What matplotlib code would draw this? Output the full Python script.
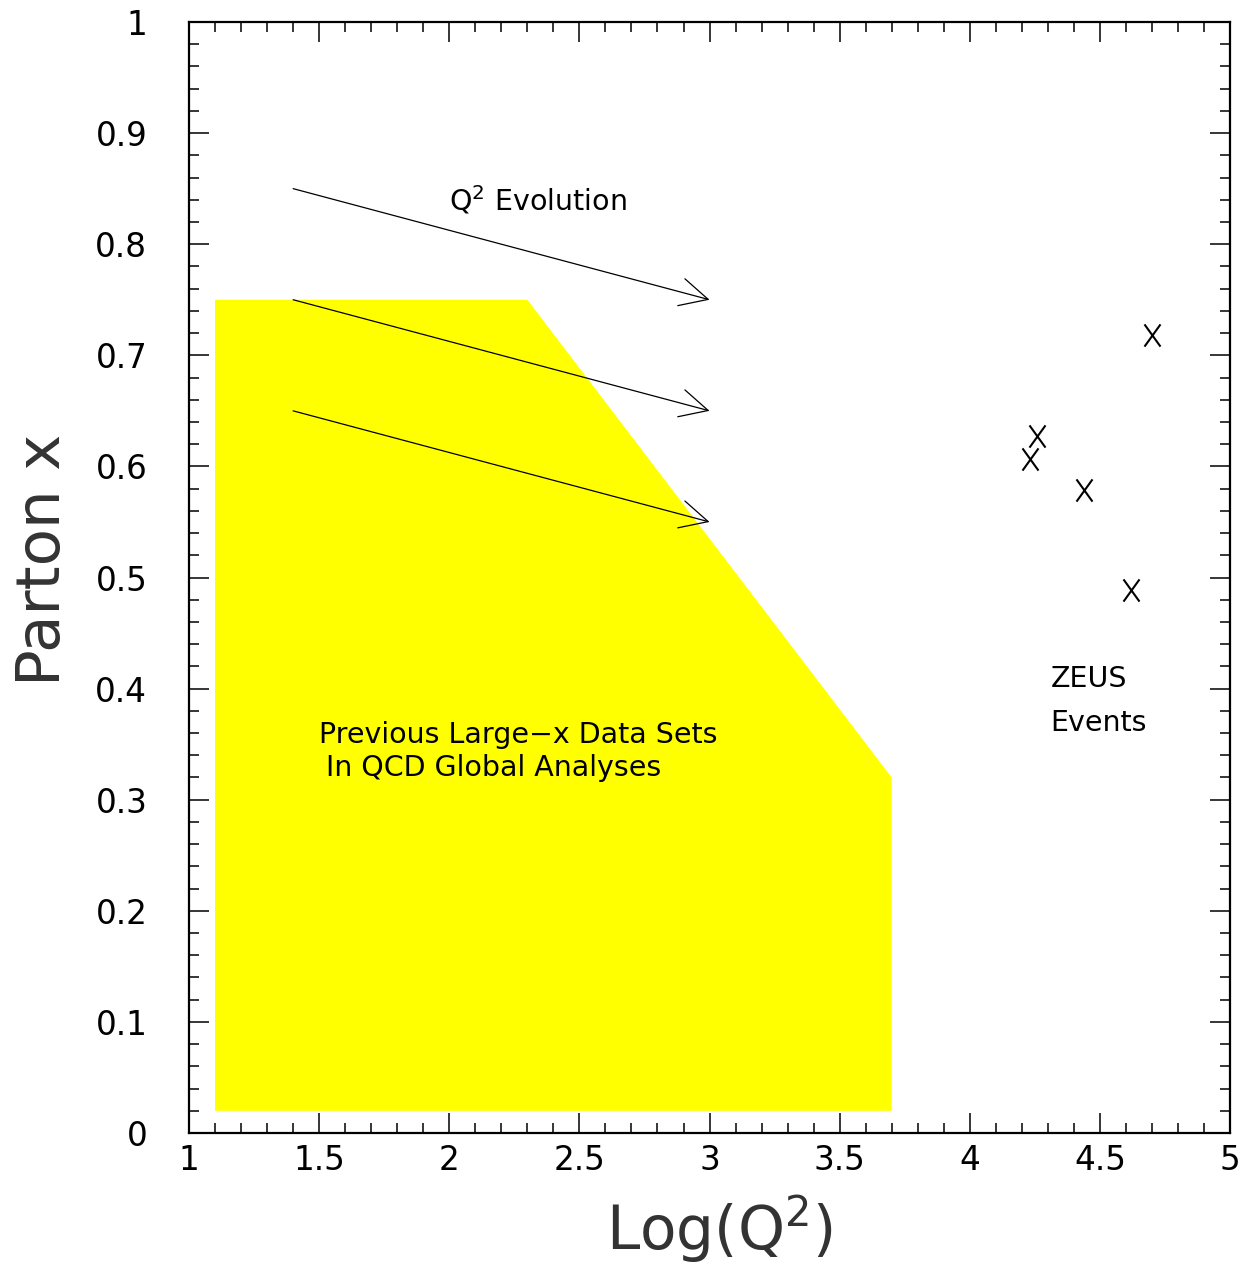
import matplotlib
matplotlib.use("Agg")
import matplotlib.pyplot as plt
from matplotlib.ticker import MultipleLocator
from matplotlib.path import Path

plt.rcParams['font.family'] = ['DejaVu Sans']

# Yellow region: previous large-x data sets
region_x = [1.1, 1.1, 2.3, 3.7, 3.7]
region_y = [0.02, 0.75, 0.75, 0.32, 0.02]

# Q^2 evolution arrows (start -> end)
arrow_x0 = [1.4, 1.4, 1.4]
arrow_y0 = [0.85, 0.75, 0.65]
arrow_x1 = [3.0, 3.0, 3.0]
arrow_y1 = [0.75, 0.65, 0.55]

# ZEUS events
zeus_x = [4.70, 4.26, 4.23, 4.44, 4.62]
zeus_y = [0.718, 0.627, 0.607, 0.579, 0.489]

fig = plt.figure(figsize=(12.46, 12.63), dpi=100)
ax = fig.add_axes([0.1517, 0.1029, 0.8355, 0.8797])

ax.fill(region_x, region_y, color='#ffff00', lw=0, zorder=1)

for x0, y0, x1, y1 in zip(arrow_x0, arrow_y0, arrow_x1, arrow_y1):
    ax.annotate('', xy=(x1, y1), xytext=(x0, y0),
                arrowprops=dict(arrowstyle='->,head_length=1.0,head_width=0.5',
                                mutation_scale=20, color='black', lw=0.9,
                                shrinkA=0, shrinkB=0), zorder=3)

# X-shaped stroke marker (taller than wide)
xmark = Path([(-0.36, -0.5), (0.36, 0.5), (-0.36, 0.5), (0.36, -0.5)],
             [Path.MOVETO, Path.LINETO, Path.MOVETO, Path.LINETO])
ax.plot(zeus_x, zeus_y, linestyle='none', marker=xmark, fillstyle='none',
        markersize=16, markeredgewidth=1.5, color='black', zorder=4)

tfs = 20.5
ax.text(2.0, 0.84, r'Q$^{2}$ Evolution', fontsize=tfs, va='center', ha='left')
ax.text(1.5, 0.358, 'Previous Large\u2212x Data Sets', fontsize=tfs, va='center', ha='left')
ax.text(1.525, 0.3285, 'In QCD Global Analyses', fontsize=tfs, va='center', ha='left')
ax.text(4.31, 0.409, 'ZEUS', fontsize=tfs, va='center', ha='left')
ax.text(4.31, 0.369, 'Events', fontsize=tfs, va='center', ha='left')

ax.set_xlim(1, 5)
ax.set_ylim(0, 1)
ax.xaxis.set_minor_locator(MultipleLocator(0.1))
ax.yaxis.set_minor_locator(MultipleLocator(0.02))
ax.set_xticks([1, 1.5, 2, 2.5, 3, 3.5, 4, 4.5, 5])
ax.set_xticklabels(['1', '1.5', '2', '2.5', '3', '3.5', '4', '4.5', '5'])
ax.set_yticks([0, 0.1, 0.2, 0.3, 0.4, 0.5, 0.6, 0.7, 0.8, 0.9, 1])
ax.set_yticklabels(['0', '0.1', '0.2', '0.3', '0.4', '0.5', '0.6', '0.7', '0.8', '0.9', '1'])

ax.tick_params(which='both', direction='in', top=True, right=True, width=1.1, color='black')
ax.tick_params(which='major', length=14.5)
ax.tick_params(which='minor', length=7.5)
ax.tick_params(axis='x', which='major', labelsize=23.5, pad=8)
ax.tick_params(axis='y', which='major', labelsize=23.5, pad=30)
for s in ax.spines.values():
    s.set_linewidth(1.6)

ax.set_xlabel(r'Log(Q$^{2}$)', fontsize=43, color='#333333')
ax.set_ylabel('Parton x', fontsize=44, color='#333333')
ax.xaxis.set_label_coords(0.51, -0.054)
ax.yaxis.set_label_coords(-0.111, 0.516)

fig.savefig('out.png', dpi=100)
